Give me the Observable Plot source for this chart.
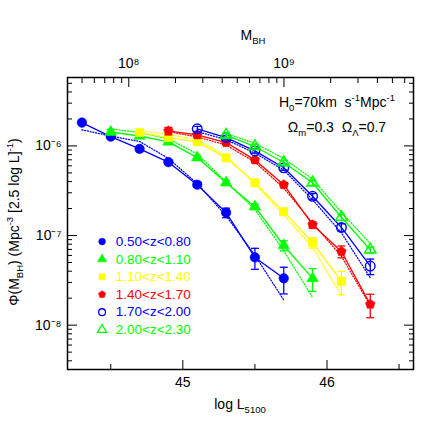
<!DOCTYPE html>
<html><head><meta charset="utf-8">
<script src="https://cdn.jsdelivr.net/npm/d3@7"></script>
<script src="https://cdn.jsdelivr.net/npm/@observablehq/plot@0.6"></script>
<style>body{margin:0;background:#fff} #chart{width:436px;height:436px}</style>
</head><body><div id="chart"></div>
<script>
// ---------- data ----------
const logL = [44.3, 44.5, 44.7, 44.9, 45.1, 45.3, 45.5, 45.7, 45.9, 46.1, 46.3];
const zLabels = ["0.50<z<0.80", "0.80<z<1.10", "1.10<z<1.40", "1.40<z<1.70", "1.70<z<2.00", "2.00<z<2.30"];
const binColors = ["#0000ff", "#00ff00", "#ffff00", "#ff0000", "#0000ff", "#00ff00"];
const binSymbols = ["circle", "triangle", "square", "pentagon", "circle", "triangle"];
const binFilled = [true, true, true, true, false, false];
const binStart = [0, 1, 2, 3, 4, 5]; // index into logL of first bin point

const phi1 = [1.82e-6, 1.27e-6, 9.27e-7, 6.59e-7, 3.69e-7, 1.80e-7, 5.70e-8, 3.33e-8];
const phi2 = [1.43e-6, 1.29e-6, 1.11e-6, 7.41e-7, 3.88e-7, 2.10e-7, 7.74e-8, 3.33e-8];
const phi3 = [1.41e-6, 1.24e-6, 1.11e-6, 7.36e-7, 3.88e-7, 1.85e-7, 8.36e-8, 3.08e-8];
const phi4 = [1.47e-6, 1.33e-6, 1.09e-6, 6.98e-7, 3.69e-7, 1.32e-7, 6.64e-8, 1.71e-8];
const phi5 = [1.55e-6, 1.24e-6, 8.79e-7, 5.70e-7, 2.74e-7, 1.23e-7, 4.56e-8];
const phi6 = [1.32e-6, 9.84e-7, 6.53e-7, 3.88e-7, 1.60e-7, 6.93e-8];

const err1 = [0.09e-6, 0.06e-6, 0.045e-6, 0.035e-6, 0.025e-6, 0.022e-6, 1.5e-8, 1.1e-8];
const err2 = [0.10e-6, 0.07e-6, 0.06e-6, 0.04e-6, 0.025e-6, 0.015e-6, 1.0e-8, 0.95e-8];
const err3 = [0.10e-6, 0.07e-6, 0.05e-6, 0.03e-6, 0.02e-6, 0.012e-6, 1.1e-8, 0.9e-8];
const err4 = [0.14e-6, 0.08e-6, 0.05e-6, 0.035e-6, 0.02e-6, 0.01e-6, 1.0e-8, 0.5e-8];
const err5 = [0.10e-6, 0.07e-6, 0.05e-6, 0.035e-6, 0.02e-6, 0.012e-6, 0.9e-8];
const err6 = [0.08e-6, 0.06e-6, 0.04e-6, 0.025e-6, 0.012e-6, 0.5e-8];

// model curves (dotted), log10 Phi
const model1 = [-5.82, -5.89, -5.95, -6.14, -6.42, -6.78, -7.22, -7.72];
const model2 = [-5.81, -5.85, -5.92, -6.09, -6.40, -6.71, -7.17, -7.69];
const model3 = [-5.83, -5.87, -5.93, -6.11, -6.42, -6.77, -7.13, -7.67];
const model4 = [-5.84, -5.90, -5.99, -6.18, -6.47, -6.86, -7.23, -7.78];
const model5 = [-5.84, -5.93, -6.08, -6.27, -6.60, -6.97, -7.47];
const model6 = [-5.86, -5.97, -6.14, -6.37, -6.74, -7.09];

// axis ticks
const xMajor = [45, 46];
const xMinor = [44.5, 45.5, 46.5];
const yMajor = [1e-8, 1e-7, 1e-6];
const yMajorLabels = ["10⁻⁸", "10⁻⁷", "10⁻⁶"];
const yMinor = [4e-9, 5e-9, 6e-9, 7e-9, 8e-9, 9e-9, 2e-8, 3e-8, 4e-8, 5e-8, 6e-8, 7e-8, 8e-8, 9e-8,
  2e-7, 3e-7, 4e-7, 5e-7, 6e-7, 7e-7, 8e-7, 9e-7, 2e-6, 3e-6, 4e-6, 5e-6];
const mMajor = [1e8, 1e9];
const mMajorLabels = ["10⁸", "10⁹"];
const mMinor = [5e7, 6e7, 7e7, 8e7, 9e7, 2e8, 3e8, 4e8, 5e8, 6e8, 7e8, 8e8, 9e8, 2e9, 3e9, 4e9, 5e9, 6e9];
// top-axis relation: log L5100 = L0 + slope * (log M_BH - 8)
const mbhL0 = 44.625, mbhSlope = 1.0764;

// ---------- build ----------
const FONT = "'Liberation Sans', Arial, Helvetica, sans-serif";
const phis = [phi1, phi2, phi3, phi4, phi5, phi6];
const errs = [err1, err2, err3, err4, err5, err6];
const models = [model1, model2, model3, model4, model5, model6];
const toL = m => mbhL0 + mbhSlope * (Math.log10(m) - 8);

const pentagon = {draw(ctx, size) {
  const r = Math.sqrt(size / Math.PI) * 1.12;
  for (let k = 0; k < 5; k++) {
    const a = -Math.PI / 2 + k * 2 * Math.PI / 5;
    const px = r * Math.cos(a), py = r * Math.sin(a);
    if (k === 0) ctx.moveTo(px, py); else ctx.lineTo(px, py);
  }
  ctx.closePath();
}};
const cap = {draw(ctx, size) {
  const w = Math.sqrt(size / Math.PI);
  ctx.moveTo(-w, 0); ctx.lineTo(w, 0);
}};
const sym = s => s === "pentagon" ? pentagon : s;
const symR = {circle: 4.8, triangle: 4.3, square: 4.7, pentagon: 4.5};

const marks = [];
phis.forEach((phi, b) => {
  const color = binColors[b];
  const rows = phi.map((v, j) => ({L: logL[binStart[b] + j], phi: v, err: errs[b][j], model: 10 ** models[b][j]}));
  marks.push(Plot.line(rows, {x: "L", y: "model", stroke: color, strokeWidth: 1.3, strokeDasharray: "1,1.8"}));
  marks.push(Plot.line(rows, {x: "L", y: "phi", stroke: color, strokeWidth: 1.3}));
  marks.push(Plot.ruleX(rows, {x: "L", y1: d => d.phi - d.err, y2: d => d.phi + d.err, stroke: color, strokeWidth: 1.3}));
  marks.push(Plot.dot(rows, {x: "L", y: d => d.phi - d.err, symbol: cap, r: 4, stroke: color, strokeWidth: 1.3, fill: "none"}));
  marks.push(Plot.dot(rows, {x: "L", y: d => d.phi + d.err, symbol: cap, r: 4, stroke: color, strokeWidth: 1.3, fill: "none"}));
  marks.push(Plot.dot(rows, {x: "L", y: "phi", symbol: sym(binSymbols[b]), r: symR[binSymbols[b]],
    fill: binFilled[b] ? color : "none", stroke: color, strokeWidth: binFilled[b] ? 0.5 : 1.4}));
});

// legend (placed in data coordinates)
const legendX = 44.44, legendTextX = 44.535, legendTopLog = -7.067, legendStepLog = 0.197;
zLabels.forEach((label, i) => {
  const row = [{x: legendX, tx: legendTextX, y: 10 ** (legendTopLog - i * legendStepLog), label}];
  marks.push(Plot.dot(row, {x: "x", y: "y", symbol: sym(binSymbols[i]), r: 3.4,
    fill: binFilled[i] ? binColors[i] : "none", stroke: binColors[i], strokeWidth: binFilled[i] ? 0.5 : 1.3}));
  marks.push(Plot.text(row, {x: "tx", y: "y", text: "label", fill: binColors[i], textAnchor: "start", fontSize: 13.5}));
});

// axes (inward ticks)
marks.push(
  Plot.frame({stroke: "black", strokeWidth: 1.5}),
  Plot.axisX({anchor: "bottom", ticks: xMajor, tickSize: -9, fill: "none", label: null}),
  Plot.axisX({anchor: "bottom", ticks: xMinor, tickSize: -5, fill: "none", label: null}),
  Plot.axisX({anchor: "bottom", ticks: xMajor, tickSize: 0, tickPadding: 8, tickFormat: d => String(d), label: null}),
  Plot.axisX({anchor: "top", ticks: mMajor.map(toL), tickSize: -9, fill: "none", label: null}),
  Plot.axisX({anchor: "top", ticks: mMinor.map(toL), tickSize: -5, fill: "none", label: null}),
  Plot.axisX({anchor: "top", ticks: mMajor.map(toL), tickSize: 0, tickPadding: 10,
    tickFormat: d => mMajorLabels[mMajor.map(toL).indexOf(d)], label: null}),
  Plot.axisY({anchor: "left", ticks: yMajor, tickSize: -10, fill: "none", label: null}),
  Plot.axisY({anchor: "left", ticks: yMinor, tickSize: -5, fill: "none", label: null}),
  Plot.axisY({anchor: "right", ticks: yMajor, tickSize: -10, fill: "none", label: null}),
  Plot.axisY({anchor: "right", ticks: yMinor, tickSize: -5, fill: "none", label: null}),
  Plot.axisY({anchor: "left", ticks: yMajor, tickSize: 0, tickPadding: 6,
    tickFormat: d => yMajorLabels[yMajor.indexOf(d)], label: null})
);

const svgEl = Plot.plot({
  width: 436, height: 436,
  marginLeft: 67, marginRight: 23, marginTop: 77, marginBottom: 67,
  x: {domain: [44.2, 46.6]},
  y: {type: "log", domain: [3.2e-9, 5.8e-6]},
  style: {fontFamily: FONT, fontSize: "14px", background: "white", color: "black"},
  marks
});
document.getElementById("chart").append(svgEl);

// rich text labels (sub/superscripts)
const svg = d3.select(svgEl);
function rich(x, y, parts, {anchor = "start", rotate = 0, size = 14, fill = "black"} = {}) {
  const t = svg.append("text").attr("x", x).attr("y", y).attr("font-size", size)
    .attr("fill", fill).attr("text-anchor", anchor).attr("font-family", FONT);
  if (rotate) t.attr("transform", `rotate(${rotate},${x},${y})`);
  let shift = 0;
  for (const [s, k] of parts) {
    const target = k === "sup" ? -0.42 * size : k === "sub" ? 0.3 * size : 0;
    t.append("tspan").attr("dy", target - shift).attr("font-size", k === "n" ? size : size * 0.68).text(s);
    shift = target;
  }
}
rich(240, 409, [["log L", "n"], ["5100", "sub"]], {anchor: "middle"});
rich(253, 40, [["M", "n"], ["BH", "sub"]], {anchor: "middle"});
rich(19, 222, [["Φ(M", "n"], ["BH", "sub"], [") (Mpc", "n"], ["-3", "sup"], [" [2.5 log L]", "n"], ["-1", "sup"], [")", "n"]],
  {anchor: "middle", rotate: -90});
rich(337, 107, [["H", "n"], ["0", "sub"], ["=70km\u00a0\u00a0s", "n"], ["-1", "sup"], ["Mpc", "n"], ["-1", "sup"]], {anchor: "middle"});
rich(337, 132, [["Ω", "n"], ["m", "sub"], ["=0.3\u00a0\u00a0Ω", "n"], ["Λ", "sub"], ["=0.7", "n"]], {anchor: "middle"});
</script>
</body></html>
